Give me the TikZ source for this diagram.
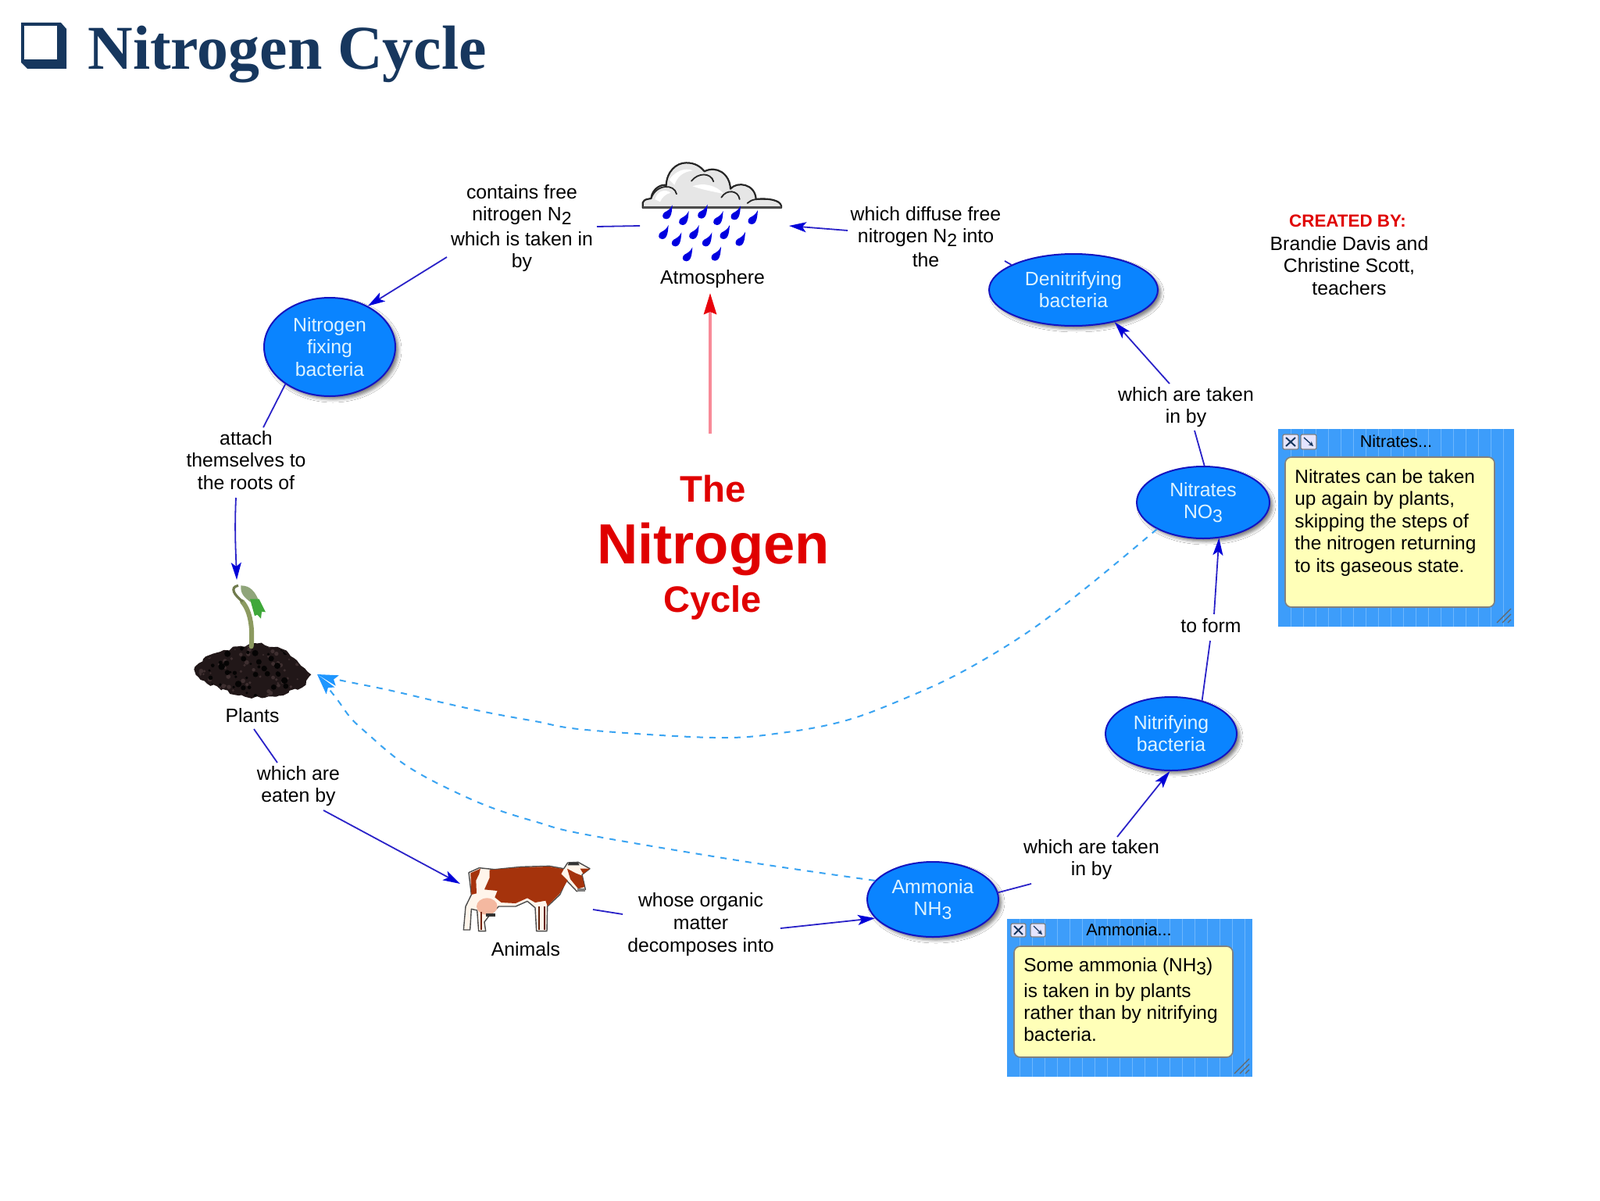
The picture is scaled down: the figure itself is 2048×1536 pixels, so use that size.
\documentclass[tikz,border=0pt]{standalone}
\usepackage{fontspec}
\setmainfont{Liberation Sans}
\newfontfamily\titlefont{Liberation Serif}
\usetikzlibrary{arrows.meta,shapes.geometric,shadows.blur,decorations.pathmorphing}
\definecolor{navy}{HTML}{17375E}
\definecolor{linkblue}{HTML}{2A22C8}
\definecolor{headblue}{HTML}{0000D8}
\definecolor{nodeblue}{HTML}{0A84FF}
\definecolor{edgeblue}{HTML}{1414C0}
\definecolor{nodetext}{HTML}{DDF3FF}
\definecolor{dashblue}{HTML}{3AA4F2}
\definecolor{dashhead}{HTML}{1E96FF}
\definecolor{redtext}{HTML}{E00000}
\definecolor{redline}{HTML}{F88A98}
\definecolor{redhead}{HTML}{E8000A}
\definecolor{winblue}{HTML}{3D9DFA}
\definecolor{winline}{HTML}{6DB7FC}
\definecolor{noteyellow}{HTML}{FFFFB8}
\definecolor{soil}{HTML}{211718}
\definecolor{soillight}{HTML}{3E2F30}
\definecolor{stem}{HTML}{8C9A60}
\definecolor{leaftop}{HTML}{8FA57A}
\definecolor{leaflow}{HTML}{3FA83A}
\definecolor{cowred}{HTML}{A5330C}
\definecolor{udder}{HTML}{F4B8A0}
\definecolor{raindrop}{HTML}{0000E0}
\definecolor{cloudfill}{HTML}{E6E6E6}
\newcommand{\lowr}[1]{\raisebox{-0.2em}{\fontsize{11.5pt}{14pt}\selectfont #1}}
\tikzset{
  lab/.style={align=center,inner sep=0pt,font=\fontsize{12.4pt}{14.3pt}\selectfont,text=black},
  conc/.style={ellipse,draw=edgeblue,line width=1pt,fill=nodeblue,inner sep=0pt,align=center,
    text=nodetext,font=\fontsize{12.4pt}{14.1pt}\selectfont,
    blur shadow={shadow xshift=2pt,shadow yshift=-2pt,shadow blur radius=2pt,shadow opacity=50}},
  link/.style={draw=linkblue,line width=0.9pt},
  arr/.style={link,-{Stealth[length=11pt,width=6.5pt,inset=2.5pt,color=headblue]}},
  dashlink/.style={draw=dashblue,line width=1pt,dash pattern=on 4pt off 4pt,
    -{Stealth[length=13.5pt,width=7pt,inset=2.5pt,color=dashhead,line width=0pt]}},
  win/.style={fill=winblue,draw=none},
  note/.style={fill=noteyellow,draw=gray,line width=0.8pt,rounded corners=4pt},
  notetext/.style={anchor=base west,inner sep=0pt,font=\fontsize{12.2pt}{14pt}\selectfont},
  wintitle/.style={inner sep=0pt,font=\fontsize{10.8pt}{13pt}\selectfont},
  winbtn/.style={fill=white!90!blue,draw=gray,line width=0.6pt,rounded corners=1pt},
  zoomed/.style={x=0.16667pt,y=-0.16667pt},
}
\begin{document}
\begin{tikzpicture}[x=0.5pt,y=-0.5pt]
\useasboundingbox (0,0) rectangle (2048,1536);
\fill[white] (0,0) rectangle (2048,1536);

% title
\fill[navy] (27,29) -- (78,29) -- (85,37) -- (85,88) -- (35,88) -- (27,80) -- cycle;
\fill[white] (31,33) rectangle (73,76);
\node[anchor=base west,inner sep=0pt,text=navy,font=\titlefont\bfseries\fontsize{39.9pt}{44pt}\selectfont] (title) at (112,88.5) {Nitrogen Cycle};

% concepts
\node[conc,minimum width=84pt,minimum height=63pt] (nfb) at (422,444) {Nitrogen\\fixing\\bacteria};
\node[conc,minimum width=108pt,minimum height=46pt] (den) at (1374,371) {Denitrifying\\bacteria};
\node[conc,minimum width=85pt,minimum height=46pt] (nit) at (1540,643) {Nitrates\\NO\lowr{3}};
\node[conc,minimum width=84pt,minimum height=47pt] (nif) at (1499,939) {Nitrifying\\bacteria};
\node[conc,minimum width=84pt,minimum height=48pt] (amm) at (1194,1151) {Ammonia\\NH\lowr{3}};

% labels
\node[lab] (lcontains) at (668,292) {contains free\\nitrogen N\lowr{2}\\[1.5pt]which is taken in\\by};
\node[lab] (ldiffuse) at (1185,303) {which diffuse free\\nitrogen N\lowr{2} into\\[1pt]the};
\node[lab] (latm) at (912,357) {Atmosphere};
\node[lab] (lattach) at (315,589) {attach\\themselves to\\the roots of};
\node[lab] (lplants) at (323,916) {Plants};
\node[lab] (leaten) at (382,1006) {which are\\eaten by};
\node[lab] (lanimals) at (673,1215) {Animals};
\node[lab] (lwhose) at (897,1183) {whose organic\\matter\\decomposes into};
\node[lab] (ltaken1) at (1397,1100) {which are taken\\in by};
\node[lab] (lform) at (1550,801) {to form};
\node[lab] (ltaken2) at (1518,521) {which are taken\\in by};
\node[lab,text=redtext,font=\fontsize{11.2pt}{14pt}\selectfont\bfseries] (lcreated) at (1725,283) {CREATED BY:};
\node[lab] (lauthors) at (1727,340) {Brandie Davis and\\Christine Scott,\\teachers};

% centre title
\node[anchor=base,inner sep=0pt,text=redtext,font=\bfseries\fontsize{23.7pt}{26pt}\selectfont] (cthe) at (913,642) {The};
\node[anchor=base,inner sep=0pt,text=redtext,font=\bfseries\fontsize{36.2pt}{40pt}\selectfont] (cnit) at (913,721) {Nitrogen};
\node[anchor=base,inner sep=0pt,text=redtext,font=\bfseries\fontsize{23.5pt}{26pt}\selectfont] (ccyc) at (912,783) {Cycle};

% cloud (zoom coordinates)
\begin{scope}[shift={(780,180)},zoomed]
  \filldraw[fill=cloudfill,draw=black!85,line width=1.1pt,line join=round]
    (128,258) -- (128,238) .. controls (135,222) and (150,225) .. (160,222)
    .. controls (165,180) and (205,165) .. (218,172)
    .. controls (220,120) and (255,85) .. (295,85)
    .. controls (330,85) and (350,100) .. (365,118)
    .. controls (410,95) and (462,125) .. (465,185)
    .. controls (490,155) and (560,165) .. (563,225)
    .. controls (610,220) and (655,228) .. (660,250) -- (660,258) -- cycle;
  \fill[white] (230,150) .. controls (250,120) and (290,100) .. (320,115) .. controls (280,120) and (260,140) .. (250,170) -- cycle;
  \fill[white] (175,225) .. controls (185,190) and (215,185) .. (235,200) .. controls (215,205) and (200,220) .. (195,235) -- cycle;
  \fill[white] (320,175) .. controls (360,160) and (410,170) .. (440,205) .. controls (400,195) and (360,190) .. (320,175) -- cycle;
  \draw[black!85,line width=0.9pt,line cap=round] (160,222) .. controls (180,165) and (250,165) .. (258,205);
  \draw[black!85,line width=0.9pt,line cap=round] (315,155) .. controls (340,122) and (390,122) .. (400,157);
  \draw[black!85,line width=0.9pt,line cap=round] (430,218) .. controls (450,185) and (495,190) .. (500,225);
  \draw[black!85,line width=0.9pt,line cap=round] (530,240) .. controls (545,225) and (570,222) .. (600,225);
  \fill[black!70] (128,252) rectangle (660,260);
  \foreach \dx/\dy in {220/285,283/308,355/283,415/308,482/288,548/305,205/362,255/390,322/362,372/390,440/362,500/388,297/447,407/445}
    \fill[raindrop,shift={(\dx,\dy)}] (22,-38) .. controls (20,-20) and (20,16) .. (-2,16)
      .. controls (-20,16) and (-18,-4) .. (-8,-10) .. controls (4,-16) and (14,-22) .. (22,-38) -- cycle;
\end{scope}
\coordinate (catmL) at (819,289);
\coordinate (catmR) at (1010,289);
\coordinate (catmB) at (909,375);

% plant (zoom coordinates)
\begin{scope}[shift={(220,720)},zoomed]
  \fill[soil,decorate,decoration={random steps,segment length=2.5pt,amplitude=1pt}]
    (85,410) -- (120,370) -- (175,345) -- (265,320) -- (330,310) -- (420,330) -- (480,375) -- (535,430)
    -- (500,480) -- (400,515) -- (300,520) -- (190,490) -- (110,450) -- cycle;
  \begin{scope}
    \clip (95,410) -- (125,375) -- (175,350) -- (265,325) -- (330,315) -- (420,335) -- (475,380) -- (525,430)
      -- (495,475) -- (400,510) -- (300,515) -- (190,485) -- (115,445) -- cycle;
    \pgfmathsetseed{7}
    \foreach \k in {1,...,90}{
      \pgfmathsetmacro{\sx}{90+rnd*440}
      \pgfmathsetmacro{\sy}{310+rnd*210}
      \pgfmathsetmacro{\sr}{3+rnd*6}
      \fill[soillight] (\sx,\sy) circle (\sr);
    }
    \foreach \k in {1,...,60}{
      \pgfmathsetmacro{\sx}{90+rnd*440}
      \pgfmathsetmacro{\sy}{310+rnd*210}
      \pgfmathsetmacro{\sr}{4+rnd*9}
      \fill[black!85!soil] (\sx,\sy) circle (\sr);
    }
  \end{scope}
  \draw[stem,line width=3pt,line cap=round] (305,322) .. controls (310,260) and (305,190) .. (270,150);
  \draw[stem!80!black,line width=1.6pt] (272,150) .. controls (240,125) and (220,95) .. (255,88);
  \fill[leaftop] (265,88) .. controls (300,88) and (320,110) .. (335,150) -- (300,150) .. controls (280,135) and (262,120) .. (265,88) -- cycle;
  \fill[leaflow] (300,140) -- (335,140) -- (360,190) -- (345,188) -- (342,215) -- (328,200) -- (318,205) -- cycle;
\end{scope}
\coordinate (cplantT) at (303,742);
\coordinate (cplantR) at (406,863);

% cow (zoom coordinates)
\begin{scope}[shift={(570,1080)},zoomed]
  \filldraw[fill=white!92!orange,draw=black!70,line width=0.7pt,line join=round]
    (90,110) -- (130,92) -- (190,98) -- (290,88) -- (400,85) -- (455,95) -- (470,72) -- (510,70) -- (555,95) -- (525,118)
    -- (538,175) -- (505,182) -- (465,140) -- (440,195) -- (392,240) -- (390,335) -- (350,335) -- (345,245) -- (315,220)
    -- (270,240) -- (205,240) -- (165,280) -- (150,300) -- (155,335) -- (128,335) -- (122,255) -- (100,250)
    -- (95,330) -- (70,330) -- (78,240) -- (100,195) -- cycle;
  \fill[cowred] (97,112) -- (135,95) -- (130,115) -- (118,140) -- (120,190) -- (100,195) -- cycle;
  \fill[cowred] (170,100) -- (290,90) -- (400,87) -- (455,97) -- (445,115) -- (470,140) -- (438,192) -- (392,238)
    -- (385,218) -- (345,225) -- (315,208) -- (270,228) -- (215,225) -- (190,205) -- (200,180) -- (150,175) -- (170,130) -- cycle;
  \fill[cowred] (468,95) -- (500,112) -- (525,122) -- (535,165) -- (510,172) -- (480,135) -- cycle;
  \fill[cowred] (518,95) -- (555,95) -- (530,115) -- cycle;
  \fill[black!80] (475,72) -- (510,72) -- (515,82) -- (470,82) -- cycle;
  \fill[gray] (508,170) rectangle (536,182);
  \fill[udder] (160,240) ellipse (40 and 32);
  \fill[black!80] (155,268) rectangle (192,278);
  \fill[cowred!70!black] (134,262) rectangle (140,330);
  \fill[cowred!60!black] (358,240) rectangle (363,330);
  \fill[cowred!60!black] (378,240) rectangle (383,330);
\end{scope}
\coordinate (ccowL) at (589,1131);
\coordinate (ccowR) at (759,1164);

% free ends
\coordinate (a1) at (764,290);
\coordinate (a2) at (572,329);
\coordinate (a3) at (337,547);
\coordinate (a4) at (302,637);
\coordinate (a5) at (325,933);
\coordinate (a6) at (355,976);
\coordinate (a7) at (414,1037);
\coordinate (a8) at (797,1170);
\coordinate (a9) at (999,1188);
\coordinate (a10) at (1320,1131);
\coordinate (a11) at (1430,1071);
\coordinate (a12) at (1549,820);
\coordinate (a13) at (1554,786);
\coordinate (a14) at (1529,551);
\coordinate (a15) at (1497,491);
\coordinate (a16) at (1286,334);
\coordinate (a17) at (1085,295);
\coordinate (a18) at (909,555);

% connectors
\draw[link] (a1) -- (catmL);
\draw[arr] (a2) -- (nfb.47);
\draw[link] (nfb.-140) -- (a3);
\draw[arr] (a4) .. controls (300,680) and (302,710) .. (cplantT);
\draw[link] (a5) -- (a6);
\draw[arr] (a7) -- (ccowL);
\draw[link] (ccowR) -- (a8);
\draw[arr] (a9) -- (amm.-162);
\draw[link] (amm.6) -- (a10);
\draw[arr] (a11) -- (nif.-92);
\draw[link] (nif.47) -- (a12);
\draw[arr] (a13) -- (nit.-66);
\draw[link] (nit.88) -- (a14);
\draw[arr] (a15) -- (den.-38);
\draw[link] (den.158) -- (a16);
\draw[arr] (a17) -- (catmR);
\draw[draw=redline,line width=2pt,-{Stealth[length=13.5pt,width=8pt,inset=1.5pt,color=redhead]}] (a18) -- (catmB);
\draw[dashlink] plot[smooth,tension=.6] coordinates {(nit.-150) (1393,750) (1317,808) (1233,859) (1160,893) (1083,922) (1000,938) (914,944) (750,934) (685,923) (620,911) (557,897) (497,883) (433,870) (cplantR)};
\draw[dashlink] plot[smooth,tension=.6] coordinates {(amm.162) (950,1102) (750,1068) (687,1052) (625,1032) (567,1006) (525,983) (498,963) (475,943) (450,920) (430,893) (cplantR)};

% note: nitrates
\fill[win] (1636,549) rectangle (1938,802);
\foreach \lx in {1652,1668,...,1932} \draw[winline,line width=0.4pt] (\lx,549) -- (\lx,802);
\filldraw[note] (1645,585) rectangle (1913,777);
\filldraw[winbtn] (1642,556) rectangle (1662,575);
\filldraw[winbtn] (1665,556) rectangle (1685,575);
\draw[navy,line width=1pt] (1646,560) -- (1658,571) (1658,560) -- (1646,571);
\draw[navy,line width=0.7pt,-{Stealth[length=3pt,width=3pt]}] (1669,560) -- (1681,571);
\node[wintitle] (tnitr) at (1787,565) {Nitrates...};
\node[notetext] (n1) at (1657,618) {Nitrates can be taken};
\node[notetext] (n2) at (1657,646) {up again by plants,};
\node[notetext] (n3) at (1657,675) {skipping the steps of};
\node[notetext] (n4) at (1657,703) {the nitrogen returning};
\node[notetext] (n5) at (1657,732) {to its gaseous state.};
\draw[black!60,line width=0.6pt] (1916,797) -- (1934,779) (1923,797) -- (1934,786) (1930,797) -- (1934,793);

% note: ammonia
\fill[win] (1289,1176) rectangle (1603,1378);
\foreach \lx in {1305,1321,...,1597} \draw[winline,line width=0.4pt] (\lx,1176) -- (\lx,1378);
\filldraw[note] (1298,1211) rectangle (1578,1353);
\filldraw[winbtn] (1294,1182) rectangle (1313,1199);
\filldraw[winbtn] (1319,1182) rectangle (1338,1199);
\draw[navy,line width=1pt] (1298,1185) -- (1309,1196) (1309,1185) -- (1298,1196);
\draw[navy,line width=0.7pt,-{Stealth[length=3pt,width=3pt]}] (1323,1185) -- (1334,1196);
\node[wintitle] (tamm) at (1445,1190) {Ammonia...};
\node[notetext] (m1) at (1310,1243) {Some ammonia (NH\lowr{3})};
\node[notetext] (m2) at (1310,1276) {is taken in by plants};
\node[notetext] (m3) at (1310,1304) {rather than by nitrifying};
\node[notetext] (m4) at (1310,1332) {bacteria.};
\draw[black!60,line width=0.6pt] (1580,1374) -- (1599,1355) (1587,1374) -- (1599,1362) (1594,1374) -- (1599,1369);
\end{tikzpicture}
\end{document}
